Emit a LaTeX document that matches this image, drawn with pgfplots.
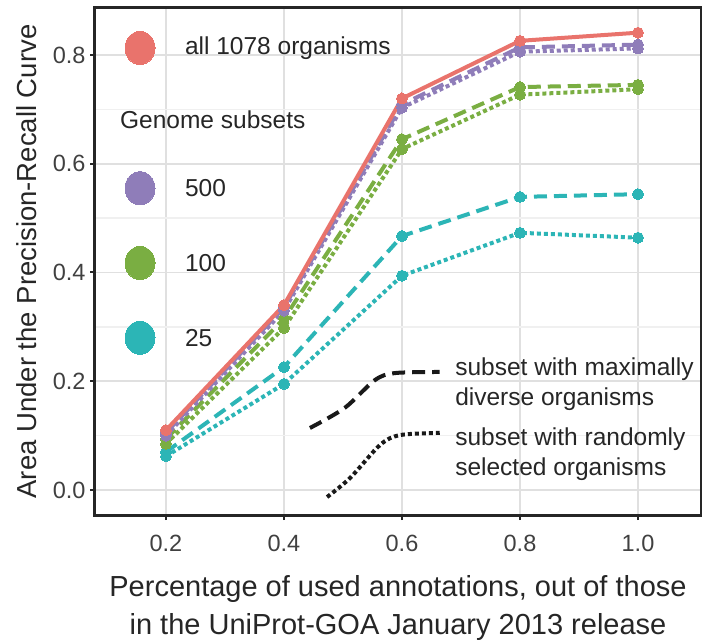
\documentclass[border=0pt]{standalone}
\usepackage{pgfplots}
\pgfplotsset{compat=1.18}
\usepackage{fontspec}
\setmainfont{Liberation Sans}
\setsansfont{Liberation Sans}
\definecolor{cred}{HTML}{E9736C}
\definecolor{cpur}{HTML}{8F7DB9}
\definecolor{cgrn}{HTML}{7AAE42}
\definecolor{ctea}{HTML}{2CB5B6}
\definecolor{gridc}{HTML}{E0E0E0}
\definecolor{gridm}{HTML}{F0F0F0}
\begin{document}
\begin{tikzpicture}
\useasboundingbox (0pt,0pt) rectangle (702pt,643pt);
\begin{axis}[
  at={(95pt,128pt)}, anchor=south west,
  scale only axis, width=606pt, height=507pt,
  xmin=0.0797, xmax=1.1068, ymin=-0.046, ymax=0.8864,
  xtick={0.2,0.4,0.6,0.8,1.0}, ytick={0,0.2,0.4,0.6,0.8},
  minor ytick={0.1,0.3,0.5,0.7},
  grid=both,
  major grid style={gridc, line width=1.6pt},
  minor grid style={gridm, line width=1.3pt},
  minor tick length=0pt,
  major tick length=5pt,
  tick align=outside, tick pos=left,
  tick style={black!85, line width=2pt},
  axis line style={black!85, line width=3pt},
  /pgf/number format/assume math mode=true,
  xticklabel style={/pgf/number format/fixed, /pgf/number format/fixed zerofill, /pgf/number format/precision=1, font=\fontsize{23.5}{28}\selectfont, text=black!75, yshift=-12pt},
  yticklabel style={/pgf/number format/fixed, /pgf/number format/fixed zerofill, /pgf/number format/precision=1, font=\fontsize{23.5}{28}\selectfont, text=black!75, xshift=-1pt},
  xlabel={Percentage of used annotations, out of those\\in the UniProt-GOA January 2013 release},
  xlabel style={at={(axis description cs:0.5,-0.183)}, anchor=center, align=center, font=\fontsize{29}{38}\selectfont, text=black!85},
  ylabel={Area Under the Precision-Recall Curve},
  ylabel style={at={(axis description cs:-0.1127,0.5)}, anchor=center, font=\fontsize{27.5}{32}\selectfont, text=black!85},
  clip=false,
]
% 25 random (dotted)
\addplot[ctea, line width=4pt, dash pattern=on 4pt off 3pt, mark=*, mark size=5.5pt, mark options={solid, line width=0pt}] coordinates {(0.2,0.062) (0.4,0.195) (0.6,0.394) (0.8,0.473) (1.0,0.464)};
% 25 diverse (dashed)
\addplot[ctea, line width=4pt, dash pattern=on 13pt off 7pt, mark=*, mark size=5.5pt, mark options={solid, line width=0pt}] coordinates {(0.2,0.070) (0.4,0.226) (0.6,0.467) (0.8,0.539) (1.0,0.544)};
% 100 random
\addplot[cgrn, line width=4pt, dash pattern=on 4pt off 3pt, mark=*, mark size=5.5pt, mark options={solid, line width=0pt}] coordinates {(0.2,0.085) (0.4,0.298) (0.6,0.627) (0.8,0.727) (1.0,0.737)};
% 100 diverse
\addplot[cgrn, line width=4pt, dash pattern=on 13pt off 7pt, mark=*, mark size=5.5pt, mark options={solid, line width=0pt}] coordinates {(0.2,0.094) (0.4,0.315) (0.6,0.645) (0.8,0.741) (1.0,0.745)};
% 500 random
\addplot[cpur, line width=4pt, dash pattern=on 4pt off 3pt, mark=*, mark size=5.5pt, mark options={solid, line width=0pt}] coordinates {(0.2,0.100) (0.4,0.330) (0.6,0.703) (0.8,0.806) (1.0,0.812)};
% 500 diverse
\addplot[cpur, line width=4pt, dash pattern=on 13pt off 7pt, mark=*, mark size=5.5pt, mark options={solid, line width=0pt}] coordinates {(0.2,0.105) (0.4,0.336) (0.6,0.709) (0.8,0.814) (1.0,0.819)};
% all 1078
\addplot[cred, line width=4pt, mark=*, mark size=5.5pt, mark options={line width=0pt}] coordinates {(0.2,0.110) (0.4,0.340) (0.6,0.720) (0.8,0.826) (1.0,0.841)};

% legend circles
\addplot[only marks, mark=*, mark size=15pt, mark options={yscale=1.1, line width=0pt}, cred] coordinates {(0.156,0.813)};
\addplot[only marks, mark=*, mark size=15pt, mark options={yscale=1.1, line width=0pt}, cpur] coordinates {(0.156,0.555)};
\addplot[only marks, mark=*, mark size=15pt, mark options={yscale=1.1, line width=0pt}, cgrn] coordinates {(0.156,0.4175)};
\addplot[only marks, mark=*, mark size=15pt, mark options={yscale=1.1, line width=0pt}, ctea] coordinates {(0.156,0.280)};
\node[anchor=west, font=\fontsize{24.5}{28}\selectfont, text=black!85, inner sep=0pt] at (axis cs:0.232,0.813) {all 1078 organisms};
\node[anchor=west, font=\fontsize{24.5}{28}\selectfont, text=black!85, inner sep=0pt] at (axis cs:0.122,0.68) {Genome subsets};
\node[anchor=west, font=\fontsize{24.5}{28}\selectfont, text=black!85, inner sep=0pt] at (axis cs:0.232,0.555) {500};
\node[anchor=west, font=\fontsize{24.5}{28}\selectfont, text=black!85, inner sep=0pt] at (axis cs:0.232,0.4175) {100};
\node[anchor=west, font=\fontsize{24.5}{28}\selectfont, text=black!85, inner sep=0pt] at (axis cs:0.232,0.280) {25};

% linetype legend
\addplot[black!90, line width=4pt, dash pattern=on 13pt off 7pt, smooth] coordinates {(0.444,0.114) (0.503,0.151) (0.554,0.202) (0.588,0.215) (0.664,0.217)};
\addplot[black!90, line width=4pt, dash pattern=on 4pt off 3pt, smooth] coordinates {(0.473,-0.013) (0.512,0.022) (0.563,0.083) (0.597,0.101) (0.664,0.105)};
\node[anchor=west, align=left, font=\fontsize{24.5}{30}\selectfont, text=black!85, inner sep=0pt] at (axis cs:0.690,0.194) {subset with maximally\\diverse organisms};
\node[anchor=west, align=left, font=\fontsize{24.5}{30}\selectfont, text=black!85, inner sep=0pt] at (axis cs:0.690,0.066) {subset with randomly\\selected organisms};
\end{axis}
\end{tikzpicture}
\end{document}
